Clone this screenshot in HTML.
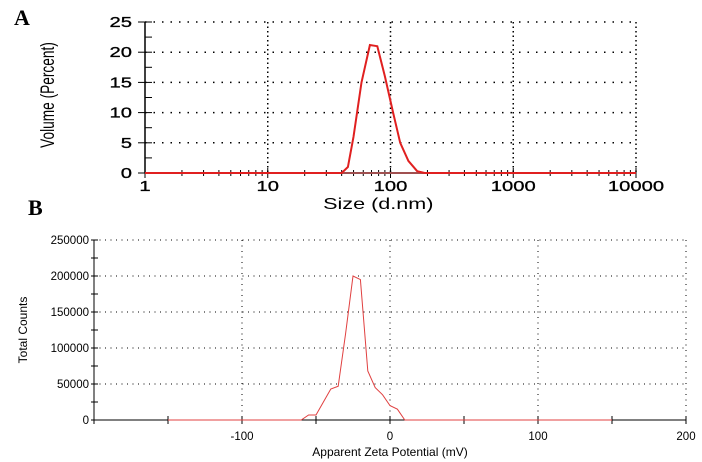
<!DOCTYPE html>
<html><head><meta charset="utf-8"><style>
html,body{margin:0;padding:0;background:#fff;}
svg{display:block;font-family:"Liberation Sans",Arial,sans-serif;}
</style></head><body>
<svg id="s" width="702" height="462" viewBox="0 0 702 462">
<text x="14" y="25" font-family="Liberation Serif" font-weight="bold" font-size="22">A</text>
<text x="28" y="215" font-family="Liberation Serif" font-weight="bold" font-size="22">B</text>
<g id="ga"></g>
<g id="gb"></g>
</svg>
<script>
const sizeX=[1,40,45,50,58,68,78,90,105,120,140,165,190,10000];
const sizeY=[0,0,1,6,15,21.2,21,16,10,5,2,0.3,0,0];
const sizeTicks=["1","10","100","1000","10000"];
const volTicks=[0,5,10,15,20,25];
const zetaX=[-150,-60,-55,-50,-45,-40,-35,-30,-25,-20,-15,-10,-5,0,5,10,150];
const zetaY=[0,0,7000,7000,25000,43000,47000,120000,200000,195000,68000,45000,35000,20000,15000,0,0];
const zetaTicks=[-100,0,100,200];
const countTicks=[0,50000,100000,150000,200000,250000];
const NS="http://www.w3.org/2000/svg";
function mk(p,t,a,txt){const e=document.createElementNS(NS,t);for(const k in a)e.setAttribute(k,a[k]);if(txt!==undefined)e.textContent=txt;p.appendChild(e);return e;}
// Chart A
const ga=document.getElementById('ga');
const ax=v=>145+Math.log10(v)*122.75, ay=v=>173-v*6.04;
for(const v of volTicks){if(v>0){const g=mk(ga,'line',{x1:145,x2:636,y1:ay(v),y2:ay(v),stroke:'#000','stroke-dasharray':'1.5,7','stroke-width':1.5});}
 mk(ga,'line',{x1:138,x2:152,y1:ay(v),y2:ay(v),stroke:'#000'});
 if(v<25) mk(ga,'line',{x1:145,x2:152,y1:ay(v+2.5),y2:ay(v+2.5),stroke:'#000'});
 const t=mk(ga,'text',{x:132,y:ay(v)+5,'text-anchor':'end','font-size':15,'stroke':'#000','stroke-width':0.3,transform:`translate(${132*-0.35},0) scale(1.35,1)`},v);}
sizeTicks.forEach((s,i)=>{const x=ax(+s);
 if(i>0){const g=mk(ga,'line',{x1:x,x2:x,y1:ay(25),y2:173,stroke:'#000','stroke-dasharray':'1.5,3','stroke-width':1.5});}
 mk(ga,'line',{x1:x,x2:x,y1:168,y2:178,stroke:'#000'});
 if(i<4)for(let m=2;m<10;m++){const xm=ax(+s*m);mk(ga,'line',{x1:xm,x2:xm,y1:170,y2:176,stroke:'#000'});}
 const t=mk(ga,'text',{x:x,y:191,'text-anchor':'middle','font-size':15,'stroke':'#000','stroke-width':0.3,transform:`translate(${x*-0.35},0) scale(1.35,1)`},s);});
mk(ga,'line',{x1:145,x2:145,y1:ay(25),y2:173,stroke:'#000','stroke-width':1.5});
mk(ga,'line',{x1:145,x2:636,y1:173,y2:173,stroke:'#a05050','stroke-width':2});
let pa=sizeX.map((v,i)=>(i?'L':'M')+ax(v).toFixed(1)+','+ay(sizeY[i]).toFixed(1)).join('');
const la=mk(ga,'path',{d:pa,fill:'none',stroke:'#e02020','stroke-width':2});
let t=mk(ga,'text',{x:378,y:209,'text-anchor':'middle','font-size':16,transform:'translate(-132,0) scale(1.35,1)'},'Size (d.nm)');
t=mk(ga,'text',{x:0,y:0,'text-anchor':'middle','font-size':19,transform:'translate(54,95) rotate(-90) scale(0.72,1)'},'Volume (Percent)');
// Chart B
const gb=document.getElementById('gb');
const bx=v=>390+v*1.48, by=v=>420-v*0.00072;
for(const v of countTicks){if(v>0){const g=mk(gb,'line',{x1:94,x2:686,y1:by(v),y2:by(v),stroke:'#000','stroke-dasharray':'1,4.5'});}
 mk(gb,'line',{x1:91,x2:98,y1:by(v),y2:by(v),stroke:'#000'});
 if(v<250000) mk(gb,'line',{x1:91,x2:98,y1:by(v+25000),y2:by(v+25000),stroke:'#000'});
 t=mk(gb,'text',{x:89,y:by(v)+4,'text-anchor':'end','font-size':11.5},v);}
for(let v=-150;v<=200;v+=50){const x=bx(v);mk(gb,'line',{x1:x,x2:x,y1:416,y2:424,stroke:'#000'});}
mk(gb,'line',{x1:94,x2:94,y1:416,y2:424,stroke:'#000'});
zetaTicks.forEach(v=>{const x=bx(v);
 const g=mk(gb,'line',{x1:x,x2:x,y1:by(250000),y2:420,stroke:'#000','stroke-dasharray':'1,4.5'});
 t=mk(gb,'text',{x:x,y:440,'text-anchor':'middle','font-size':11.5},v);});
mk(gb,'line',{x1:94,x2:94,y1:by(250000),y2:420,stroke:'#000'});
mk(gb,'line',{x1:94,x2:686,y1:420,y2:420,stroke:'#000'});
let pb=zetaX.map((v,i)=>(i?'L':'M')+bx(v).toFixed(1)+','+by(zetaY[i]).toFixed(1)).join('');
const lb=mk(gb,'path',{d:pb,fill:'none',stroke:'#e04040','stroke-width':1});
t=mk(gb,'text',{x:390,y:456,'text-anchor':'middle','font-size':12},'Apparent Zeta Potential (mV)');
t=mk(gb,'text',{x:0,y:0,'text-anchor':'middle','font-size':12,transform:'translate(27,330) rotate(-90)'},'Total Counts');
</script>
</body></html>
